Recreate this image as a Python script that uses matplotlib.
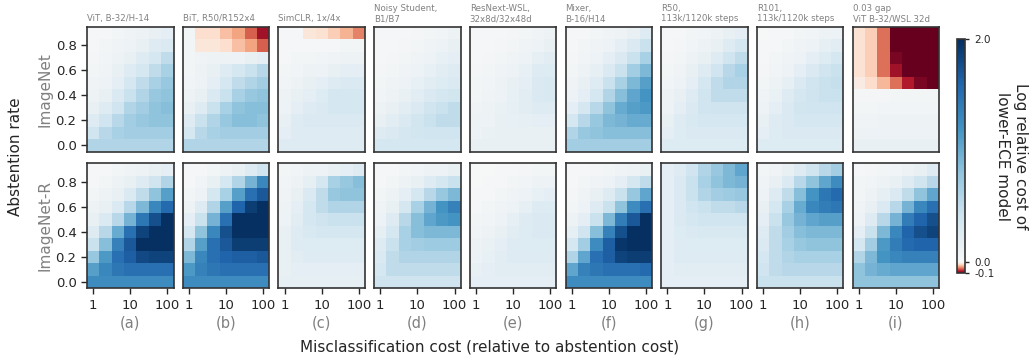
import numpy as np
import matplotlib
matplotlib.use("Agg")
from matplotlib import pyplot as plt
from matplotlib import colors

# panel titles (model pairs) and panel letters
titles = ["ViT, B-32/H-14", "BiT, R50/R152x4", "SimCLR, 1x/4x",
          "Noisy Student,\nB1/B7", "ResNext-WSL,\n32x8d/32x48d", "Mixer,\nB-16/H14",
          "R50,\n113k/1120k steps", "R101,\n113k/1120k steps", "0.03 gap\nViT B-32/WSL 32d"]
letters = ["(a)", "(b)", "(c)", "(d)", "(e)", "(f)", "(g)", "(h)", "(i)"]
row_names = ["ImageNet", "ImageNet-R"]

# misclassification cost (cols) and abstention rate (rows)
costs = [1, 2.15, 4.64, 10, 21.5, 46.4, 100]
abst = [0.0, 0.1, 0.2, 0.3, 0.4, 0.5, 0.6, 0.7, 0.8, 0.9]

# values: rows listed from abstention 0.9 (top) to 0.0 (bottom)
inet_vit = [
    [0.02, 0.03, 0.05, 0.08, 0.10, 0.15, 0.20],
    [0.03, 0.05, 0.08, 0.12, 0.15, 0.25, 0.30],
    [0.04, 0.07, 0.10, 0.15, 0.25, 0.35, 0.50],
    [0.05, 0.08, 0.15, 0.25, 0.35, 0.50, 0.65],
    [0.08, 0.12, 0.20, 0.35, 0.50, 0.65, 0.75],
    [0.10, 0.15, 0.30, 0.45, 0.60, 0.75, 0.80],
    [0.15, 0.25, 0.40, 0.60, 0.70, 0.80, 0.85],
    [0.25, 0.40, 0.55, 0.70, 0.75, 0.80, 0.80],
    [0.40, 0.55, 0.65, 0.70, 0.70, 0.70, 0.70],
    [0.60, 0.60, 0.60, 0.60, 0.60, 0.60, 0.60]]
inet_bit = [
    [0.05, -0.017, -0.017, -0.03, -0.04, -0.06, -0.085],
    [0.05, -0.012, -0.012, -0.017, -0.03, -0.04, -0.06],
    [0.05, 0.08, 0.10, 0.10, 0.12, 0.15, 0.20],
    [0.05, 0.10, 0.15, 0.25, 0.35, 0.45, 0.55],
    [0.07, 0.12, 0.20, 0.35, 0.50, 0.60, 0.70],
    [0.10, 0.15, 0.30, 0.45, 0.65, 0.75, 0.80],
    [0.15, 0.25, 0.45, 0.65, 0.80, 0.85, 0.85],
    [0.25, 0.45, 0.60, 0.75, 0.85, 0.85, 0.80],
    [0.35, 0.55, 0.65, 0.70, 0.70, 0.70, 0.70],
    [0.60, 0.60, 0.60, 0.60, 0.60, 0.60, 0.60]]
inet_simclr = [
    [0.02, 0.02, -0.012, -0.015, -0.025, -0.035, -0.05],
    [0.03, 0.03, 0.03, 0.03, 0.03, 0.05, 0.05],
    [0.03, 0.05, 0.05, 0.07, 0.08, 0.10, 0.10],
    [0.05, 0.07, 0.10, 0.12, 0.15, 0.20, 0.20],
    [0.07, 0.10, 0.15, 0.20, 0.25, 0.30, 0.30],
    [0.10, 0.15, 0.20, 0.28, 0.35, 0.35, 0.35],
    [0.12, 0.20, 0.25, 0.30, 0.35, 0.35, 0.35],
    [0.15, 0.25, 0.30, 0.30, 0.30, 0.30, 0.30],
    [0.20, 0.25, 0.25, 0.25, 0.25, 0.25, 0.25],
    [0.25, 0.25, 0.25, 0.25, 0.25, 0.25, 0.25]]
inet_noisy = [
    [0.02, 0.02, 0.03, 0.04, 0.05, 0.07, 0.10],
    [0.02, 0.03, 0.04, 0.06, 0.08, 0.12, 0.15],
    [0.03, 0.04, 0.06, 0.08, 0.12, 0.17, 0.20],
    [0.04, 0.06, 0.08, 0.12, 0.17, 0.22, 0.25],
    [0.05, 0.08, 0.12, 0.17, 0.22, 0.28, 0.30],
    [0.07, 0.10, 0.15, 0.22, 0.30, 0.35, 0.38],
    [0.10, 0.15, 0.22, 0.30, 0.40, 0.45, 0.50],
    [0.15, 0.22, 0.30, 0.38, 0.45, 0.50, 0.50],
    [0.25, 0.30, 0.35, 0.38, 0.40, 0.40, 0.40],
    [0.35, 0.35, 0.35, 0.35, 0.35, 0.35, 0.35]]
inet_wsl = [
    [0.02, 0.02, 0.03, 0.04, 0.05, 0.08, 0.10],
    [0.02, 0.03, 0.04, 0.06, 0.08, 0.12, 0.15],
    [0.03, 0.04, 0.06, 0.08, 0.12, 0.18, 0.22],
    [0.04, 0.05, 0.08, 0.12, 0.17, 0.25, 0.28],
    [0.05, 0.07, 0.10, 0.15, 0.20, 0.30, 0.32],
    [0.06, 0.08, 0.12, 0.17, 0.22, 0.30, 0.32],
    [0.08, 0.10, 0.14, 0.18, 0.22, 0.25, 0.25],
    [0.10, 0.12, 0.15, 0.17, 0.18, 0.20, 0.20],
    [0.12, 0.14, 0.15, 0.15, 0.15, 0.15, 0.15],
    [0.15, 0.15, 0.15, 0.15, 0.15, 0.15, 0.15]]
inet_mixer = [
    [0.02, 0.03, 0.05, 0.08, 0.10, 0.15, 0.25],
    [0.03, 0.05, 0.08, 0.12, 0.20, 0.30, 0.45],
    [0.04, 0.07, 0.12, 0.20, 0.30, 0.45, 0.65],
    [0.05, 0.10, 0.18, 0.30, 0.45, 0.70, 0.90],
    [0.08, 0.15, 0.25, 0.45, 0.65, 0.90, 1.10],
    [0.12, 0.20, 0.35, 0.60, 0.85, 1.05, 1.20],
    [0.20, 0.35, 0.55, 0.80, 1.00, 1.10, 1.15],
    [0.35, 0.55, 0.75, 0.90, 0.95, 1.00, 1.00],
    [0.60, 0.75, 0.80, 0.85, 0.85, 0.85, 0.85],
    [0.70, 0.70, 0.70, 0.70, 0.70, 0.70, 0.70]]
inet_r50 = [
    [0.02, 0.03, 0.05, 0.07, 0.10, 0.15, 0.20],
    [0.03, 0.04, 0.07, 0.10, 0.15, 0.25, 0.35],
    [0.04, 0.06, 0.10, 0.15, 0.25, 0.40, 0.50],
    [0.05, 0.08, 0.15, 0.25, 0.40, 0.55, 0.65],
    [0.07, 0.12, 0.20, 0.35, 0.50, 0.60, 0.60],
    [0.10, 0.15, 0.25, 0.40, 0.50, 0.50, 0.50],
    [0.12, 0.20, 0.30, 0.40, 0.42, 0.42, 0.42],
    [0.15, 0.25, 0.32, 0.35, 0.35, 0.35, 0.35],
    [0.20, 0.28, 0.30, 0.30, 0.30, 0.30, 0.30],
    [0.28, 0.28, 0.28, 0.28, 0.28, 0.28, 0.28]]
inet_r101 = [
    [0.01, 0.02, 0.03, 0.05, 0.07, 0.10, 0.12],
    [0.02, 0.03, 0.05, 0.08, 0.12, 0.18, 0.22],
    [0.03, 0.05, 0.08, 0.12, 0.20, 0.28, 0.35],
    [0.04, 0.07, 0.12, 0.20, 0.30, 0.40, 0.45],
    [0.06, 0.10, 0.18, 0.30, 0.40, 0.45, 0.48],
    [0.08, 0.14, 0.25, 0.35, 0.42, 0.45, 0.45],
    [0.12, 0.20, 0.30, 0.38, 0.40, 0.40, 0.40],
    [0.15, 0.25, 0.30, 0.35, 0.35, 0.35, 0.35],
    [0.20, 0.28, 0.30, 0.30, 0.30, 0.30, 0.30],
    [0.28, 0.28, 0.28, 0.28, 0.28, 0.28, 0.28]]
inet_gap = [
    [-0.015, -0.025, -0.055, -0.12, -0.12, -0.12, -0.12],
    [-0.015, -0.025, -0.055, -0.12, -0.12, -0.12, -0.12],
    [-0.015, -0.025, -0.055, -0.095, -0.12, -0.12, -0.12],
    [-0.015, -0.025, -0.055, -0.085, -0.12, -0.12, -0.12],
    [-0.008, -0.018, -0.033, -0.055, -0.08, -0.095, -0.11],
    [0.04, 0.04, 0.04, 0.05, 0.05, 0.05, 0.05],
    [0.06, 0.06, 0.07, 0.07, 0.07, 0.07, 0.07],
    [0.08, 0.09, 0.10, 0.10, 0.10, 0.10, 0.10],
    [0.10, 0.12, 0.12, 0.12, 0.12, 0.12, 0.12],
    [0.15, 0.15, 0.15, 0.15, 0.15, 0.15, 0.15]]

inetr_vit = [
    [0.02, 0.03, 0.05, 0.08, 0.10, 0.15, 0.20],
    [0.03, 0.05, 0.10, 0.15, 0.25, 0.40, 0.60],
    [0.05, 0.10, 0.15, 0.30, 0.50, 0.80, 1.10],
    [0.10, 0.15, 0.30, 0.55, 0.90, 1.30, 1.55],
    [0.15, 0.30, 0.55, 0.95, 1.45, 1.75, 2.00],
    [0.25, 0.55, 1.00, 1.50, 1.85, 2.00, 2.00],
    [0.45, 0.85, 1.35, 1.70, 2.00, 2.00, 2.00],
    [0.75, 1.15, 1.50, 1.65, 1.80, 1.85, 1.85],
    [1.10, 1.30, 1.45, 1.50, 1.50, 1.50, 1.50],
    [1.25, 1.25, 1.25, 1.25, 1.25, 1.25, 1.25]]
inetr_bit = [
    [0.02, 0.03, 0.06, 0.10, 0.15, 0.25, 0.40],
    [0.03, 0.07, 0.15, 0.35, 0.60, 0.95, 1.30],
    [0.06, 0.12, 0.35, 0.65, 1.10, 1.50, 1.70],
    [0.10, 0.25, 0.60, 1.10, 1.60, 1.90, 2.00],
    [0.20, 0.45, 0.95, 1.50, 2.00, 2.00, 2.00],
    [0.35, 0.80, 1.30, 1.75, 2.00, 2.00, 2.00],
    [0.60, 1.10, 1.50, 1.70, 1.90, 1.90, 1.90],
    [0.90, 1.30, 1.50, 1.60, 1.65, 1.65, 1.70],
    [1.15, 1.35, 1.45, 1.50, 1.50, 1.50, 1.50],
    [1.25, 1.25, 1.25, 1.25, 1.25, 1.25, 1.25]]
inetr_simclr = [
    [0.05, 0.07, 0.10, 0.12, 0.15, 0.20, 0.25],
    [0.07, 0.10, 0.18, 0.35, 0.65, 0.75, 0.85],
    [0.08, 0.15, 0.30, 0.50, 0.75, 0.80, 0.80],
    [0.10, 0.20, 0.35, 0.50, 0.60, 0.60, 0.60],
    [0.12, 0.22, 0.35, 0.42, 0.45, 0.45, 0.45],
    [0.15, 0.25, 0.32, 0.35, 0.35, 0.35, 0.35],
    [0.15, 0.25, 0.28, 0.28, 0.28, 0.28, 0.28],
    [0.15, 0.22, 0.25, 0.25, 0.25, 0.25, 0.25],
    [0.15, 0.20, 0.20, 0.20, 0.20, 0.20, 0.20],
    [0.18, 0.18, 0.18, 0.18, 0.18, 0.18, 0.18]]
inetr_noisy = [
    [0.02, 0.03, 0.05, 0.07, 0.10, 0.12, 0.15],
    [0.03, 0.05, 0.10, 0.15, 0.25, 0.35, 0.45],
    [0.05, 0.10, 0.20, 0.35, 0.55, 0.75, 0.90],
    [0.08, 0.15, 0.35, 0.65, 0.95, 1.20, 1.35],
    [0.12, 0.25, 0.55, 0.85, 1.05, 1.15, 1.20],
    [0.18, 0.35, 0.65, 0.85, 0.90, 0.90, 0.90],
    [0.25, 0.45, 0.65, 0.70, 0.72, 0.72, 0.72],
    [0.30, 0.50, 0.60, 0.60, 0.60, 0.60, 0.60],
    [0.35, 0.50, 0.50, 0.50, 0.50, 0.50, 0.50],
    [0.42, 0.42, 0.42, 0.42, 0.42, 0.42, 0.42]]
inetr_wsl = [
    [0.00, 0.01, 0.02, 0.03, 0.04, 0.05, 0.06],
    [0.01, 0.02, 0.03, 0.05, 0.07, 0.10, 0.12],
    [0.02, 0.03, 0.05, 0.08, 0.12, 0.17, 0.20],
    [0.03, 0.05, 0.08, 0.12, 0.18, 0.25, 0.28],
    [0.05, 0.07, 0.12, 0.18, 0.25, 0.30, 0.30],
    [0.07, 0.10, 0.15, 0.22, 0.28, 0.30, 0.30],
    [0.10, 0.14, 0.20, 0.25, 0.28, 0.28, 0.28],
    [0.12, 0.17, 0.22, 0.25, 0.25, 0.25, 0.25],
    [0.15, 0.20, 0.22, 0.22, 0.22, 0.22, 0.22],
    [0.20, 0.20, 0.20, 0.20, 0.20, 0.20, 0.20]]
inetr_mixer = [
    [0.02, 0.02, 0.04, 0.06, 0.08, 0.10, 0.15],
    [0.03, 0.05, 0.08, 0.12, 0.20, 0.35, 0.50],
    [0.04, 0.08, 0.15, 0.25, 0.45, 0.75, 1.05],
    [0.06, 0.12, 0.25, 0.45, 0.80, 1.25, 1.50],
    [0.10, 0.20, 0.45, 0.90, 1.40, 1.70, 2.00],
    [0.18, 0.40, 0.85, 1.35, 1.75, 2.00, 2.00],
    [0.35, 0.70, 1.25, 1.65, 1.95, 2.00, 2.00],
    [0.60, 1.05, 1.50, 1.65, 1.85, 1.90, 1.90],
    [1.05, 1.35, 1.45, 1.50, 1.50, 1.50, 1.55],
    [1.25, 1.25, 1.25, 1.25, 1.25, 1.25, 1.25]]
inetr_r50 = [
    [0.20, 0.25, 0.40, 0.60, 0.75, 0.90, 1.05],
    [0.20, 0.30, 0.45, 0.65, 0.80, 0.90, 0.95],
    [0.20, 0.30, 0.45, 0.60, 0.70, 0.72, 0.75],
    [0.20, 0.30, 0.40, 0.45, 0.50, 0.50, 0.55],
    [0.20, 0.30, 0.35, 0.40, 0.40, 0.40, 0.40],
    [0.20, 0.28, 0.30, 0.32, 0.32, 0.32, 0.32],
    [0.20, 0.25, 0.28, 0.28, 0.28, 0.28, 0.28],
    [0.20, 0.25, 0.25, 0.25, 0.25, 0.25, 0.25],
    [0.20, 0.22, 0.22, 0.22, 0.22, 0.22, 0.22],
    [0.20, 0.20, 0.20, 0.20, 0.20, 0.20, 0.20]]
inetr_r101 = [
    [0.05, 0.08, 0.15, 0.25, 0.40, 0.55, 0.70],
    [0.08, 0.15, 0.30, 0.55, 0.80, 1.05, 1.25],
    [0.12, 0.25, 0.50, 0.85, 1.20, 1.45, 1.55],
    [0.15, 0.35, 0.65, 1.00, 1.30, 1.40, 1.45],
    [0.20, 0.45, 0.75, 0.95, 1.05, 1.10, 1.10],
    [0.25, 0.50, 0.70, 0.85, 0.90, 0.90, 0.90],
    [0.30, 0.50, 0.65, 0.75, 0.80, 0.80, 0.80],
    [0.35, 0.50, 0.60, 0.65, 0.65, 0.65, 0.65],
    [0.40, 0.50, 0.55, 0.55, 0.55, 0.55, 0.55],
    [0.45, 0.45, 0.45, 0.45, 0.45, 0.45, 0.45]]
inetr_gap = [
    [0.03, 0.04, 0.05, 0.07, 0.10, 0.15, 0.25],
    [0.05, 0.07, 0.10, 0.15, 0.25, 0.40, 0.55],
    [0.06, 0.10, 0.18, 0.30, 0.50, 0.80, 1.05],
    [0.08, 0.15, 0.30, 0.55, 0.95, 1.30, 1.50],
    [0.12, 0.25, 0.55, 0.95, 1.40, 1.60, 1.75],
    [0.20, 0.45, 0.90, 1.30, 1.60, 1.75, 1.85],
    [0.35, 0.70, 1.15, 1.40, 1.55, 1.60, 1.60],
    [0.60, 0.90, 1.20, 1.30, 1.35, 1.35, 1.35],
    [0.80, 0.95, 1.00, 1.05, 1.05, 1.05, 1.05],
    [0.80, 0.80, 0.80, 0.80, 0.80, 0.80, 0.80]]

imagenet = [inet_vit, inet_bit, inet_simclr, inet_noisy, inet_wsl,
            inet_mixer, inet_r50, inet_r101, inet_gap]
imagenet_r = [inetr_vit, inetr_bit, inetr_simclr, inetr_noisy, inetr_wsl,
              inetr_mixer, inetr_r50, inetr_r101, inetr_gap]

plt.rcParams["font.family"] = "DejaVu Sans"
plt.rcParams["axes.edgecolor"] = "#333333"
plt.rcParams["axes.linewidth"] = 1.2
plt.rcParams["xtick.color"] = "#262626"
plt.rcParams["ytick.color"] = "#262626"

fig = plt.figure(figsize=(10.29, 3.6), dpi=100)

norm = colors.TwoSlopeNorm(vmin=-0.1, vcenter=0.0, vmax=2.0)
cmap = "RdBu"

# cell edges (log spaced in x, centred on the cost values)
lc = np.log10(costs)
step = lc[1] - lc[0]
xedges = 10 ** np.concatenate([lc - step / 2, [lc[-1] + step / 2]])
yedges = np.concatenate([np.array(abst) - 0.05, [abst[-1] + 0.05]])

W, H = 86.6, 125.0
left0, gap = 87.0, 9.1
tops = [26.7, 163.3]

mesh = None
for r, rows in enumerate([imagenet, imagenet_r]):
    for c in range(9):
        x0 = (left0 + c * (W + gap)) / 1029
        y0 = (360 - tops[r] - H) / 360
        ax = fig.add_axes([x0, y0, W / 1029, H / 360])
        data = np.flipud(np.array(rows[c]))
        mesh = ax.pcolormesh(xedges, yedges, data, cmap=cmap, norm=norm)
        ax.set_xscale("log")
        ax.set_xlim(xedges[0], xedges[-1])
        ax.set_ylim(yedges[0], yedges[-1])
        ax.set_xticks([1, 10, 100])
        ax.minorticks_off()
        ax.set_yticks([0.0, 0.2, 0.4, 0.6, 0.8])
        ax.tick_params(labelsize=9.5, length=4, width=1)
        if r == 1:
            ax.set_xticklabels(["1", "10", "100"])
            ax.set_xlabel(letters[c], color="gray", fontsize=10.5, labelpad=3)
        else:
            ax.tick_params(axis="x", bottom=False, labelbottom=False)
            ax.set_title(titles[c], loc="left", fontsize=6.2, color="gray", pad=4)
        if c == 0:
            ax.set_yticklabels(["0.0", "0.2", "0.4", "0.6", "0.8"])
            ax.set_ylabel(row_names[r], color="gray", fontsize=11, labelpad=2)
        else:
            ax.tick_params(axis="y", left=False, labelleft=False)

fig.text(0.015, 0.565, "Abstention rate", rotation=90, fontsize=11,
         color="#262626", ha="center", va="center")
fig.text(0.476, 0.035, "Misclassification cost (relative to abstention cost)",
         fontsize=11, color="#262626", ha="center", va="center")

# colorbar
cax = fig.add_axes([956.7 / 1029, (360 - 273.3) / 360, 8.3 / 1029, 234 / 360])
cb = fig.colorbar(mesh, cax=cax)
cb.ax.set_yscale("linear")
cb.set_ticks([-0.1, 0.0, 2.0])
cb.set_ticklabels(["-0.1", "0.0", "2.0"])
cb.ax.tick_params(labelsize=7.5, length=3, width=1)
cb.outline.set_edgecolor("#333333")
cb.set_label("Log relative cost of\nlower-ECE model", rotation=270,
             fontsize=11, color="#262626", labelpad=24)

fig.savefig("out.png", dpi=100)
